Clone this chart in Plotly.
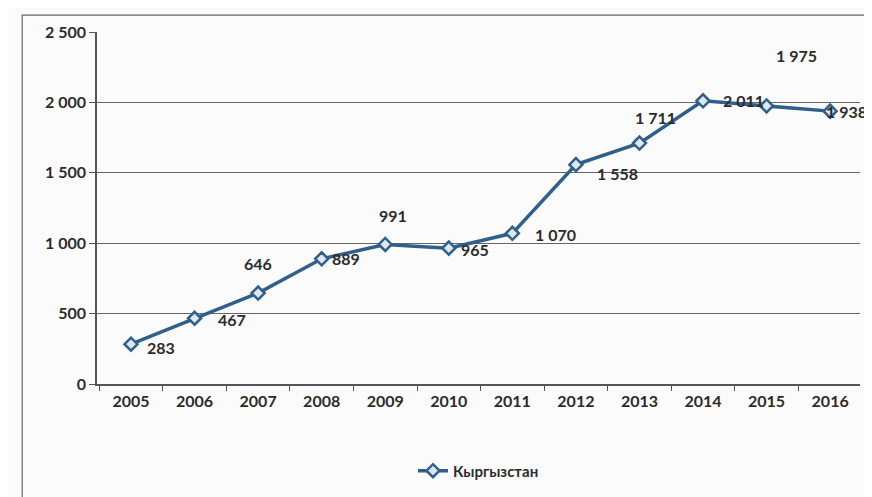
import plotly.graph_objects as go

years = ["2005", "2006", "2007", "2008", "2009", "2010", "2011", "2012", "2013", "2014", "2015", "2016"]
values = [283, 467, 646, 889, 991, 965, 1070, 1558, 1711, 2011, 1975, 1938]
label_text = ["283", "467", "646", "889", "991", "965", "1 070", "1 558", "1 711", "2 011", "1 975", "1 938"]
# label offsets (pixels)
label_dx = [30, 37, 0, 24, 8, 26, 43, 42, 16, 40, 30, 16]
label_dy = [3, 1, -30, 0, -29, 1, 1, 9, -26, 0, -50, 0]
y_ticks = [0, 500, 1000, 1500, 2000, 2500]
y_tick_text = ["0", "500", "1 000", "1 500", "2 000", "2 500"]
series_name = "Кыргызстан"

line_color = "#2f5f8c"
font_fam = "Lato, Open Sans, sans-serif"

fig = go.Figure()
fig.add_trace(go.Scatter(
    x=years, y=values, mode="lines+markers", name=series_name,
    line=dict(color=line_color, width=3.5),
    marker=dict(symbol="diamond", size=10, color="#dfe8f0",
                line=dict(color=line_color, width=2.5)),
))

annotations = []
for i, (v, t, dx, dy) in enumerate(zip(values, label_text, label_dx, label_dy)):
    annotations.append(dict(x=i, y=v, xref="x", yref="y", text=t, showarrow=False,
                            xshift=dx, yshift=-dy,
                            font=dict(family=font_fam, size=16, color="#2b2b2b", weight="bold")))

fig.update_layout(
    width=872, height=497,
    margin=dict(l=89, r=20, t=24, b=121),
    paper_bgcolor="#fbfbfb", plot_bgcolor="#fbfbfb",
    annotations=annotations,
    showlegend=True,
    legend=dict(orientation="h", x=0.5, xanchor="center", y=-0.2, yanchor="top",
                font=dict(family=font_fam, size=15, color="#2b2b2b", weight="bold")),
    xaxis=dict(type="category", showgrid=False, showline=True, linecolor="#555", linewidth=1.5,
               ticks="outside", tickson="boundaries", ticklen=5, tickcolor="#555",
               ticklabelstandoff=2,
               tickfont=dict(family=font_fam, size=16, color="#2b2b2b", weight="bold"),
               range=[-0.535, 11.47]),
    yaxis=dict(range=[0, 2500], tickvals=y_ticks, ticktext=y_tick_text,
               showgrid=True, gridcolor="#666", gridwidth=1.2,
               showline=True, linecolor="#555", linewidth=1.5,
               ticks="outside", ticklen=6, tickcolor="#555",
               zeroline=False,
               tickfont=dict(family=font_fam, size=16, color="#2b2b2b", weight="bold")),
    shapes=[dict(type="rect", xref="paper", yref="paper",
                 x0=-0.098, x1=1.008, y0=-0.5, y1=1.048,
                 line=dict(color="#666", width=1.2), fillcolor="rgba(0,0,0,0)", layer="below")],
)

fig.write_html("out.html")
